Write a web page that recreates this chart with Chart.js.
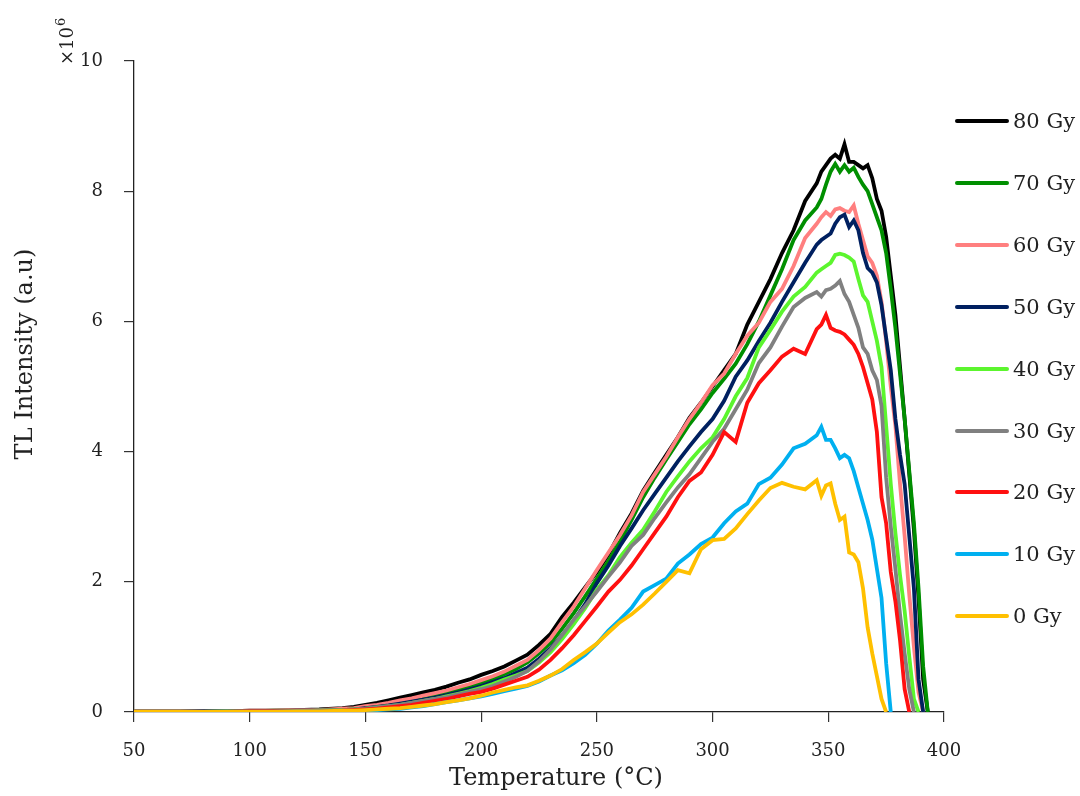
<!DOCTYPE html>
<html>
<head>
<meta charset="utf-8">
<script src="https://cdn.jsdelivr.net/npm/chart.js@4.4.0/dist/chart.umd.min.js"></script>
<style>
    body { margin: 0; background: #fff; }
    #wrap { position: relative; width: 1080px; height: 796px; }
    .leg-item { position: absolute; left: 955px; height: 24px; display: flex; align-items: center;
        font: 21px "DejaVu Serif", serif; color: #222; white-space: nowrap; }
    .leg-line { display: inline-block; width: 54px; height: 4px; margin-right: 4px; border-radius: 2px; }
</style>
</head>
<body>
<div id="wrap">
    <canvas id="tlChart" width="1080" height="796"></canvas>
    <div id="legend"></div>
</div>
<script>
// Temperature grid (°C)
const temps = [50, 60, 70, 80, 90, 100, 110, 120, 130,
    140, 145, 150, 155, 160, 165, 170, 175, 180, 185, 190, 195, 200, 205, 210, 215, 220, 225, 230, 235,
    240, 245, 250, 255, 260, 265, 270, 275, 280, 285, 290, 295, 300, 305, 310, 315, 320, 325, 330, 335, 340, 345,
    347, 349, 351, 353, 355, 357, 359, 361, 363, 365, 367, 369, 371, 373, 375, 377, 379, 381, 383, 385, 387, 389, 391, 393];

// TL intensity, x10^6 (a.u)
const gy80 = [0.01, 0.01, 0.01, 0.01, 0.01, 0.02, 0.02, 0.03, 0.04,
    0.06, 0.08, 0.11, 0.14, 0.18, 0.22, 0.26, 0.3, 0.34, 0.39, 0.45, 0.5, 0.57, 0.63, 0.7, 0.79, 0.88, 1.03, 1.2, 1.46,
    1.68, 1.92, 2.15, 2.42, 2.75, 3.05, 3.4, 3.68, 3.95, 4.22, 4.52, 4.75, 5.0, 5.25, 5.5, 5.95, 6.3, 6.65, 7.05, 7.4, 7.85, 8.12,
    8.3, 8.4, 8.5, 8.56, 8.5, 8.72, 8.45, 8.45, 8.4, 8.35, 8.4, 8.2, 7.88, 7.7, 7.3, 6.7, 6.1, 5.3, 4.5, 3.65, 2.8, 1.75, 0.5, 0];
const gy70 = [0.01, 0.01, 0.01, 0.01, 0.01, 0.01, 0.02, 0.02, 0.03,
    0.04, 0.05, 0.07, 0.09, 0.12, 0.15, 0.19, 0.22, 0.26, 0.3, 0.34, 0.38, 0.44, 0.5, 0.58, 0.66, 0.76, 0.9, 1.06, 1.28,
    1.52, 1.78, 2.05, 2.32, 2.62, 2.95, 3.3, 3.6, 3.88, 4.15, 4.42, 4.65, 4.9, 5.12, 5.35, 5.65, 6.0, 6.4, 6.8, 7.25, 7.55, 7.75,
    7.88, 8.1, 8.3, 8.42, 8.3, 8.4, 8.3, 8.36, 8.22, 8.1, 8.0, 7.8, 7.6, 7.4, 7.05, 6.5, 5.9, 5.2, 4.5, 3.7, 2.9, 1.9, 0.7, 0];
const gy60 = [0.01, 0.01, 0.01, 0.01, 0.01, 0.02, 0.02, 0.03, 0.03,
    0.05, 0.06, 0.09, 0.11, 0.14, 0.18, 0.21, 0.25, 0.29, 0.33, 0.38, 0.43, 0.49, 0.55, 0.62, 0.71, 0.8, 0.95, 1.13, 1.38,
    1.62, 1.9, 2.18, 2.45, 2.72, 3.02, 3.38, 3.65, 3.92, 4.22, 4.5, 4.75, 5.02, 5.2, 5.5, 5.78, 5.98, 6.3, 6.5, 6.85, 7.28, 7.5,
    7.6, 7.68, 7.62, 7.72, 7.74, 7.7, 7.68, 7.78, 7.5, 7.25, 7.0, 6.9, 6.7, 6.3, 5.7, 5.0, 4.4, 3.5, 2.7, 1.8, 1.0, 0.3, 0, null];
const gy50 = [0, 0, 0, 0.01, 0.01, 0.01, 0.01, 0.02, 0.02,
    0.03, 0.04, 0.06, 0.08, 0.1, 0.13, 0.16, 0.19, 0.22, 0.26, 0.3, 0.35, 0.4, 0.46, 0.52, 0.6, 0.68, 0.82, 0.98, 1.18,
    1.4, 1.66, 1.98, 2.25, 2.55, 2.82, 3.1, 3.35, 3.6, 3.85, 4.08, 4.3, 4.5, 4.78, 5.15, 5.4, 5.7, 5.98, 6.3, 6.6, 6.9, 7.18,
    7.25, 7.3, 7.35, 7.5, 7.6, 7.64, 7.45, 7.55, 7.4, 7.05, 6.82, 6.75, 6.6, 6.25, 5.75, 5.25, 4.5, 3.95, 3.5, 2.7, 1.9, 0.5, 0, null];
const gy40 = [0, 0, 0, 0, 0.01, 0.01, 0.01, 0.01, 0.02,
    0.03, 0.04, 0.05, 0.07, 0.09, 0.11, 0.14, 0.17, 0.2, 0.24, 0.28, 0.32, 0.37, 0.43, 0.5, 0.56, 0.63, 0.76, 0.92, 1.12,
    1.35, 1.6, 1.88, 2.1, 2.38, 2.6, 2.8, 3.08, 3.38, 3.62, 3.85, 4.05, 4.22, 4.5, 4.85, 5.13, 5.6, 5.87, 6.15, 6.38, 6.53, 6.75,
    6.8, 6.85, 6.9, 7.02, 7.04, 7.02, 6.98, 6.92, 6.65, 6.4, 6.3, 6.0, 5.7, 5.3, 4.4, 3.5, 2.75, 2.1, 1.55, 0.85, 0.2, 0, null, null];
const gy30 = [0, 0, 0, 0, 0.01, 0.01, 0.01, 0.01, 0.02,
    0.03, 0.04, 0.05, 0.07, 0.09, 0.11, 0.14, 0.17, 0.2, 0.23, 0.27, 0.31, 0.35, 0.4, 0.47, 0.54, 0.63, 0.78, 0.96, 1.18,
    1.42, 1.63, 1.85, 2.08, 2.3, 2.55, 2.72, 2.98, 3.22, 3.45, 3.65, 3.9, 4.15, 4.35, 4.65, 4.95, 5.36, 5.6, 5.92, 6.22, 6.36, 6.45,
    6.38, 6.48, 6.5, 6.55, 6.62, 6.42, 6.3, 6.1, 5.9, 5.6, 5.5, 5.25, 5.1, 4.7, 3.6, 2.85, 2.2, 1.5, 0.9, 0.35, 0, null, null, null];
const gy20 = [0, 0, 0, 0, 0, 0.01, 0.01, 0.01, 0.01,
    0.02, 0.03, 0.04, 0.05, 0.07, 0.09, 0.11, 0.14, 0.17, 0.2, 0.24, 0.28, 0.31, 0.36, 0.42, 0.48, 0.54, 0.65, 0.8, 0.98,
    1.18, 1.4, 1.62, 1.85, 2.03, 2.25, 2.5, 2.75, 3.0, 3.3, 3.55, 3.68, 3.95, 4.3, 4.15, 4.75, 5.05, 5.25, 5.46, 5.58, 5.5, 5.88,
    5.95, 6.1, 5.9, 5.86, 5.84, 5.8, 5.72, 5.64, 5.5, 5.3, 5.05, 4.8, 4.3, 3.3, 2.9, 2.15, 1.7, 1.1, 0.35, 0, null, null, null, null];
const gy10 = [0, 0, 0, 0, 0, 0, 0, 0.01, 0.01,
    0.01, 0.01, 0.02, 0.03, 0.04, 0.05, 0.07, 0.09, 0.12, 0.15, 0.18, 0.21, 0.24, 0.28, 0.32, 0.36, 0.4, 0.47, 0.56, 0.64,
    0.75, 0.88, 1.05, 1.25, 1.42, 1.6, 1.85, 1.95, 2.05, 2.28, 2.42, 2.58, 2.68, 2.9, 3.08, 3.2, 3.5, 3.6, 3.8, 4.05, 4.12, 4.25,
    4.38, 4.18, 4.18, 4.05, 3.9, 3.95, 3.9, 3.7, 3.45, 3.2, 2.95, 2.65, 2.2, 1.75, 0.75, 0, null, null, null, null, null, null, null, null];
const gy0 = [0, 0, 0, 0, 0, 0, 0, 0.01, 0.01,
    0.02, 0.02, 0.03, 0.04, 0.05, 0.06, 0.08, 0.1, 0.12, 0.15, 0.18, 0.21, 0.25, 0.3, 0.34, 0.38, 0.41, 0.48, 0.56, 0.66,
    0.8, 0.92, 1.05, 1.22, 1.38, 1.5, 1.65, 1.82, 2.0, 2.18, 2.13, 2.5, 2.64, 2.66, 2.82, 3.04, 3.25, 3.44, 3.52, 3.46, 3.42, 3.56,
    3.32, 3.48, 3.51, 3.2, 2.95, 3.0, 2.45, 2.42, 2.3, 1.9, 1.3, 0.9, 0.55, 0.2, 0, null, null, null, null, null, null, null, null, null];

const doses = ['80 Gy', '70 Gy', '60 Gy', '50 Gy', '40 Gy', '30 Gy', '20 Gy', '10 Gy', '0 Gy'];
const series = [gy80, gy70, gy60, gy50, gy40, gy30, gy20, gy10, gy0];
const colors = ['#000000', '#008f00', '#ff7f7f', '#002060', '#5cf52e', '#808080', '#ff1010', '#00b0f0', '#ffc000'];

const xTicks = [50, 100, 150, 200, 250, 300, 350, 400];
const yTicks = [0, 2, 4, 6, 8, 10];

const FONT = '"DejaVu Serif", serif';
const INK = '#222';

// axis titles and the "x10^6" multiplier, drawn by hand so they sit where the original has them
const axisText = {
    id: 'axisText',
    afterDraw(chart) {
        const { ctx } = chart;
        const yScale = chart.scales.y;
        ctx.save();
        ctx.fillStyle = INK;

        // x title
        ctx.font = '24px ' + FONT;
        ctx.textAlign = 'center';
        ctx.textBaseline = 'middle';
        ctx.fillText('Temperature (°C)', 556, 779);

        // y title
        ctx.save();
        ctx.translate(26, 354);
        ctx.rotate(-Math.PI / 2);
        ctx.fillText('TL Intensity (a.u)', 0, 0);
        ctx.restore();

        // multiplier
        ctx.translate(yScale.left + 73, yScale.top + 4);
        ctx.rotate(-Math.PI / 2);
        ctx.textAlign = 'left';
        ctx.textBaseline = 'alphabetic';
        ctx.font = '18px ' + FONT;
        ctx.fillText('×10', 0, 0);
        const w = ctx.measureText('×10').width;
        ctx.font = '13px ' + FONT;
        ctx.fillText('6', w + 1, -8);
        ctx.restore();
    }
};

const datasets = series.map((vals, i) => ({
    label: doses[i],
    data: temps.map((t, k) => ({ x: t, y: vals[k] })).filter(p => p.y !== null),
    borderColor: colors[i],
    backgroundColor: colors[i],
    borderWidth: 3.8,
    pointRadius: 0,
    tension: 0,
    order: series.length - 1 - i
}));

const ctx = document.getElementById('tlChart').getContext('2d');
new Chart(ctx, {
    type: 'line',
    data: { datasets },
    options: {
        responsive: false,
        animation: false,
        devicePixelRatio: 1,
        layout: { padding: { top: 61, right: 136, left: 0, bottom: 0 } },
        plugins: { legend: { display: false }, tooltip: { enabled: false } },
        scales: {
            x: {
                type: 'linear',
                min: 50,
                max: 400,
                afterBuildTicks: s => { s.ticks = xTicks.map(v => ({ value: v })); },
                afterFit: s => { s.height = 84; },
                ticks: { font: { family: FONT, size: 18 }, color: INK, padding: 19, maxRotation: 0 },
                grid: { display: true, drawOnChartArea: false, drawTicks: true, tickLength: 10, color: '#333', lineWidth: 1.2 },
                border: { display: true, color: '#222', width: 1.3 }
            },
            y: {
                min: 0,
                max: 10,
                afterBuildTicks: s => { s.ticks = yTicks.map(v => ({ value: v })); },
                afterFit: s => { s.width = 134; },
                ticks: { font: { family: FONT, size: 18 }, color: INK, padding: 21 },
                grid: { display: true, drawOnChartArea: false, drawTicks: true, tickLength: 10, color: '#333', lineWidth: 1.2 },
                border: { display: true, color: '#222', width: 1.3 }
            }
        }
    },
    plugins: [axisText]
});

// Legend on the right
const legend = document.getElementById('legend');
doses.forEach((d, i) => {
    const item = document.createElement('div');
    item.className = 'leg-item';
    item.style.top = (121 + i * 61.9 - 12) + 'px';
    item.innerHTML = `<span class="leg-line" style="background:${colors[i]}"></span>${d}`;
    legend.appendChild(item);
});
</script>
</body>
</html>
